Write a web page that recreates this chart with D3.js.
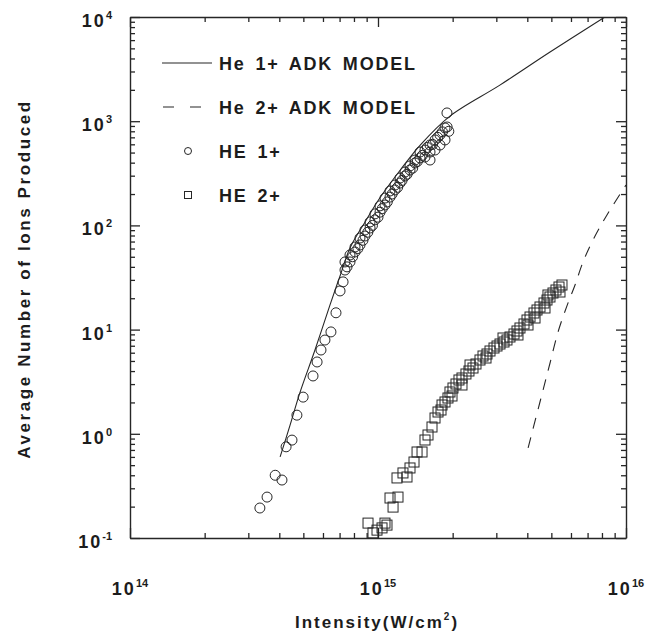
<!DOCTYPE html>
<html><head>
<meta charset="utf-8">
<title>He ionization vs intensity</title>
<script src="https://d3js.org/d3.v7.min.js"></script>
<style>
  body { margin: 0; background: #fff; }
  text { font-family: "Liberation Sans", Arial, sans-serif; font-weight: bold; fill: #1c1c1c; }
</style>
</head>
<body>
<svg id="chart" width="649" height="636"></svg>
<script>

// ---- data ----
// ADK model curves (intensity W/cm^2, ions produced)
const he1ModelI = [4.03e14, 4.42e14, 4.84e14, 5.57e14, 6.40e14, 7.03e14, 7.71e14, 8.87e14, 1.02e15, 1.23e15, 1.48e15, 1.95e15, 3.10e15, 4.94e15, 8.22e15];
const he1ModelN = [0.60, 1.21, 2.47, 6.37, 17.2, 32.7, 60.7, 108, 185, 340, 590, 1120, 2220, 4610, 10000];

const he2ModelI = [4.03e15, 4.38e15, 4.63e15, 4.94e15, 5.32e15, 5.78e15, 6.23e15, 6.71e15, 7.36e15, 8.38e15, 1.0e16];
const he2ModelN = [0.731, 1.58, 2.63, 4.78, 9.48, 16.9, 26.8, 44.6, 72.4, 126, 244];

// measured He 1+ (circles)
const he1Ions = [
  [3.34e14,0.194],[3.57e14,0.247],[3.85e14,0.40],[4.10e14,0.36],[4.26e14,0.75],[4.50e14,0.87],
  [4.71e14,1.51],[4.99e14,2.25],[5.47e14,3.59],[5.68e14,4.89],[5.89e14,6.37],[6.11e14,7.94],
  [6.46e14,9.5],[6.77e14,14.5],[7.03e14,23.5],[7.23e14,28.7],
  [7.36e14,37.3],[7.36e14,44.6],[7.5e14,40],[7.71e14,44.6],[7.71e14,52.0],[7.9e14,50],
  [8.08e14,55.6],[8.08e14,62.1],[8.3e14,60],[8.46e14,64.9],[8.46e14,75.7],[8.7e14,72],
  [8.86e14,79.1],[8.86e14,90.3],[9.1e14,86],[9.29e14,94.4],[9.29e14,108],[9.5e14,100],
  [9.72e14,113],[9.72e14,129],[1.0e15,120],[1.019e15,134],[1.019e15,154],[1.04e15,145],
  [1.067e15,157],[1.067e15,183],[1.09e15,168],[1.118e15,187],[1.118e15,214],[1.14e15,200],
  [1.171e15,219],[1.171e15,244],[1.2e15,232],[1.227e15,255],[1.227e15,285],[1.25e15,270],
  [1.285e15,298],[1.285e15,325],[1.31e15,310],[1.346e15,340],[1.346e15,372],[1.38e15,355],
  [1.41e15,397],[1.41e15,424],[1.44e15,410],[1.477e15,444],[1.477e15,506],[1.51e15,470],
  [1.547e15,529],[1.547e15,453],[1.58e15,560],[1.621e15,591],[1.621e15,424],[1.621e15,506],
  [1.66e15,600],[1.698e15,661],[1.698e15,529],[1.74e15,700],[1.778e15,738],[1.778e15,591],
  [1.82e15,790],[1.863e15,861],[1.863e15,661],[1.9e15,880],[1.93e15,800],[1.897e15,1200]
];

// measured He 2+ (squares)
const he2Ions = [
  [9.115e14,0.139],[9.546e14,0.112],[9.908e14,0.119],[1.038e15,0.125],[1.067e15,0.139],[1.087e15,0.133],
  [1.118e15,0.242],[1.204e15,0.247],[1.150e15,0.198],[1.193e15,0.377],[1.261e15,0.421],[1.309e15,0.385],
  [1.346e15,0.470],[1.397e15,0.536],[1.437e15,0.669],[1.505e15,0.669],[1.547e15,0.872],[1.591e15,0.974],
  [1.651e15,1.162],[1.698e15,1.418],[1.746e15,1.619],[1.795e15,1.692],[1.863e15,2.020],[1.915e15,2.206],
  [1.951e15,2.519],[2.006e15,2.751],[2.063e15,3.006],[2.121e15,3.284],[2.181e15,3.432],[2.263e15,3.750],
  [2.327e15,4.006],[2.416e15,4.280],[2.484e15,4.676],[2.578e15,5.109],[2.651e15,5.580],[2.751e15,5.832],
  [2.829e15,6.232],[2.936e15,6.659],[3.019e15,6.960],[3.104e15,7.274],[3.222e15,7.603],[3.312e15,7.947],
  [3.406e15,8.492],[3.535e15,9.074],[3.635e15,9.696],[3.737e15,10.36],[3.879e15,11.32],[3.989e15,12.36],
  [4.102e15,13.21],[4.256e15,14.43],[4.377e15,15.42],[4.500e15,16.48],[4.671e15,18.00],[4.802e15,19.23],
  [4.937e15,20.55],[5.077e15,22.45],[5.220e15,23.99],[5.368e15,25.63],[5.519e15,26.79],
  [1.988e15,2.306],[2.350e15,4.574],[2.726e15,5.339],[3.192e15,8.306],[3.668e15,8.876],[4.297e15,12.92],
  [4.846e15,21.48],[5.418e15,22.95],[4.714e15,16.12],[4.026e15,11.07],[2.181e15,2.940],[1.812e15,1.890]
];

const legendLabels = ["He 1+ ADK MODEL", "He 2+ ADK MODEL", "HE 1+", "HE 2+"];
const xMajor = [1e14, 1e15, 1e16];
const yMajor = [1e-1, 1e0, 1e1, 1e2, 1e3, 1e4];

// ---- layout ----
const svg = d3.select("#chart");
const width = +svg.attr("width");
const height = +svg.attr("height");
const margin = { top: 17, right: 23, bottom: 98, left: 130 };
const chartWidth = width - margin.left - margin.right;
const chartHeight = height - margin.top - margin.bottom;
const ink = "#262626";

const xScale = d3.scaleLog().domain([1e14, 1e16]).range([margin.left, margin.left + chartWidth]);
const yScale = d3.scaleLog().domain([1e-1, 1e4]).range([margin.top + chartHeight, margin.top]);

// minor ticks 2..9 of every decade
function minorTicks(majors) {
  let out = [];
  for (let i = 0; i < majors.length - 1; i++) {
    for (let m = 2; m <= 9; m++) out.push(m * majors[i]);
  }
  return out;
}
const xMinor = minorTicks(xMajor);
const yMinor = minorTicks(yMajor);

// ---- frame with inward ticks on all four sides ----
function drawAxis(axisFn, scale, transform, majors, minors) {
  const g = svg.append("g").attr("transform", transform);
  g.call(axisFn(scale).tickValues(majors).tickFormat("").tickSizeInner(-10).tickSizeOuter(0));
  const gm = svg.append("g").attr("transform", transform);
  gm.call(axisFn(scale).tickValues(minors).tickFormat("").tickSizeInner(-5).tickSizeOuter(0));
  gm.select(".domain").remove();
  svg.selectAll("path.domain").attr("stroke", ink).attr("stroke-width", 1.4);
  svg.selectAll(".tick line").attr("stroke", ink).attr("stroke-width", 1.3);
}
drawAxis(d3.axisBottom, xScale, "translate(0," + (margin.top + chartHeight) + ")", xMajor, xMinor);
drawAxis(d3.axisTop, xScale, "translate(0," + margin.top + ")", xMajor, xMinor);
drawAxis(d3.axisLeft, yScale, "translate(" + margin.left + ",0)", yMajor, yMinor);
drawAxis(d3.axisRight, yScale, "translate(" + (margin.left + chartWidth) + ",0)", yMajor, yMinor);

// ---- tick labels with superscript exponents ----
function powerLabel(sel) {
  sel.append("tspan").text("10").style("letter-spacing", "2px");
  sel.append("tspan").attr("dy", -8).style("font-size", "11px")
     .text(d => Math.round(Math.log10(d)));
}
svg.append("g").selectAll("text").data(yMajor).join("text")
   .attr("x", 112).attr("y", d => yScale(d) + 10)
   .attr("text-anchor", "end").style("font-size", "18px")
   .call(powerLabel);
svg.append("g").selectAll("text").data(xMajor).join("text")
   .attr("x", d => xScale(d)).attr("y", 595)
   .attr("text-anchor", "middle").style("font-size", "18px")
   .call(powerLabel);

// ---- axis titles ----
svg.append("text")
   .attr("transform", "translate(30,279) rotate(-90)")
   .attr("text-anchor", "middle").style("font-size", "17px").style("letter-spacing", "2.6px")
   .text("Average Number of Ions Produced");

const xTitle = svg.append("text")
   .attr("x", 377).attr("y", 628).attr("text-anchor", "middle")
   .style("font-size", "17px").style("letter-spacing", "2px");
xTitle.append("tspan").text("Intensity(W/cm");
xTitle.append("tspan").attr("dy", -8).style("font-size", "10px").text("2");
xTitle.append("tspan").attr("dy", 8).text(")");

// ---- model curves ----
svg.append("clipPath").attr("id", "plotClip").append("rect")
   .attr("x", margin.left).attr("y", margin.top).attr("width", chartWidth).attr("height", chartHeight);

const line = d3.line().x(d => xScale(d[0])).y(d => yScale(d[1])).curve(d3.curveCatmullRom.alpha(0.5));
svg.append("path").datum(d3.zip(he1ModelI, he1ModelN))
   .attr("clip-path", "url(#plotClip)")
   .attr("d", line).attr("fill", "none").attr("stroke", ink).attr("stroke-width", 1.1);
svg.append("path").datum(d3.zip(he2ModelI, he2ModelN))
   .attr("clip-path", "url(#plotClip)")
   .attr("d", line).attr("fill", "none").attr("stroke", ink).attr("stroke-width", 1.1)
   .attr("stroke-dasharray", "11,9");

// ---- measured points ----
svg.append("g").selectAll("circle").data(he1Ions).join("circle")
   .attr("cx", d => xScale(d[0])).attr("cy", d => yScale(d[1])).attr("r", 5)
   .attr("fill", "none").attr("stroke", ink).attr("stroke-width", 1);
svg.append("g").selectAll("rect").data(he2Ions).join("rect")
   .attr("x", d => xScale(d[0]) - 5).attr("y", d => yScale(d[1]) - 5)
   .attr("width", 10).attr("height", 10)
   .attr("fill", "none").attr("stroke", ink).attr("stroke-width", 1);

// ---- legend ----
const legend = svg.append("g");
const rowY = [63, 107, 151, 195];
legend.append("line").attr("x1", 162).attr("x2", 212).attr("y1", rowY[0]).attr("y2", rowY[0])
      .attr("stroke", ink).attr("stroke-width", 1.1);
legend.append("line").attr("x1", 163).attr("x2", 203).attr("y1", rowY[1]).attr("y2", rowY[1])
      .attr("stroke", ink).attr("stroke-width", 1.1).attr("stroke-dasharray", "11,16");
legend.append("circle").attr("cx", 188).attr("cy", rowY[2]).attr("r", 3.5)
      .attr("fill", "none").attr("stroke", ink);
legend.append("rect").attr("x", 184.5).attr("y", rowY[3] - 3.5).attr("width", 7).attr("height", 7)
      .attr("fill", "none").attr("stroke", ink);
legend.selectAll("text").data(legendLabels).join("text")
      .attr("x", 219).attr("y", (d, i) => rowY[i] + 7)
      .style("font-size", "18px").style("letter-spacing", "1.8px").style("word-spacing", "3px")
      .text(d => d);

</script>
</body></html>
